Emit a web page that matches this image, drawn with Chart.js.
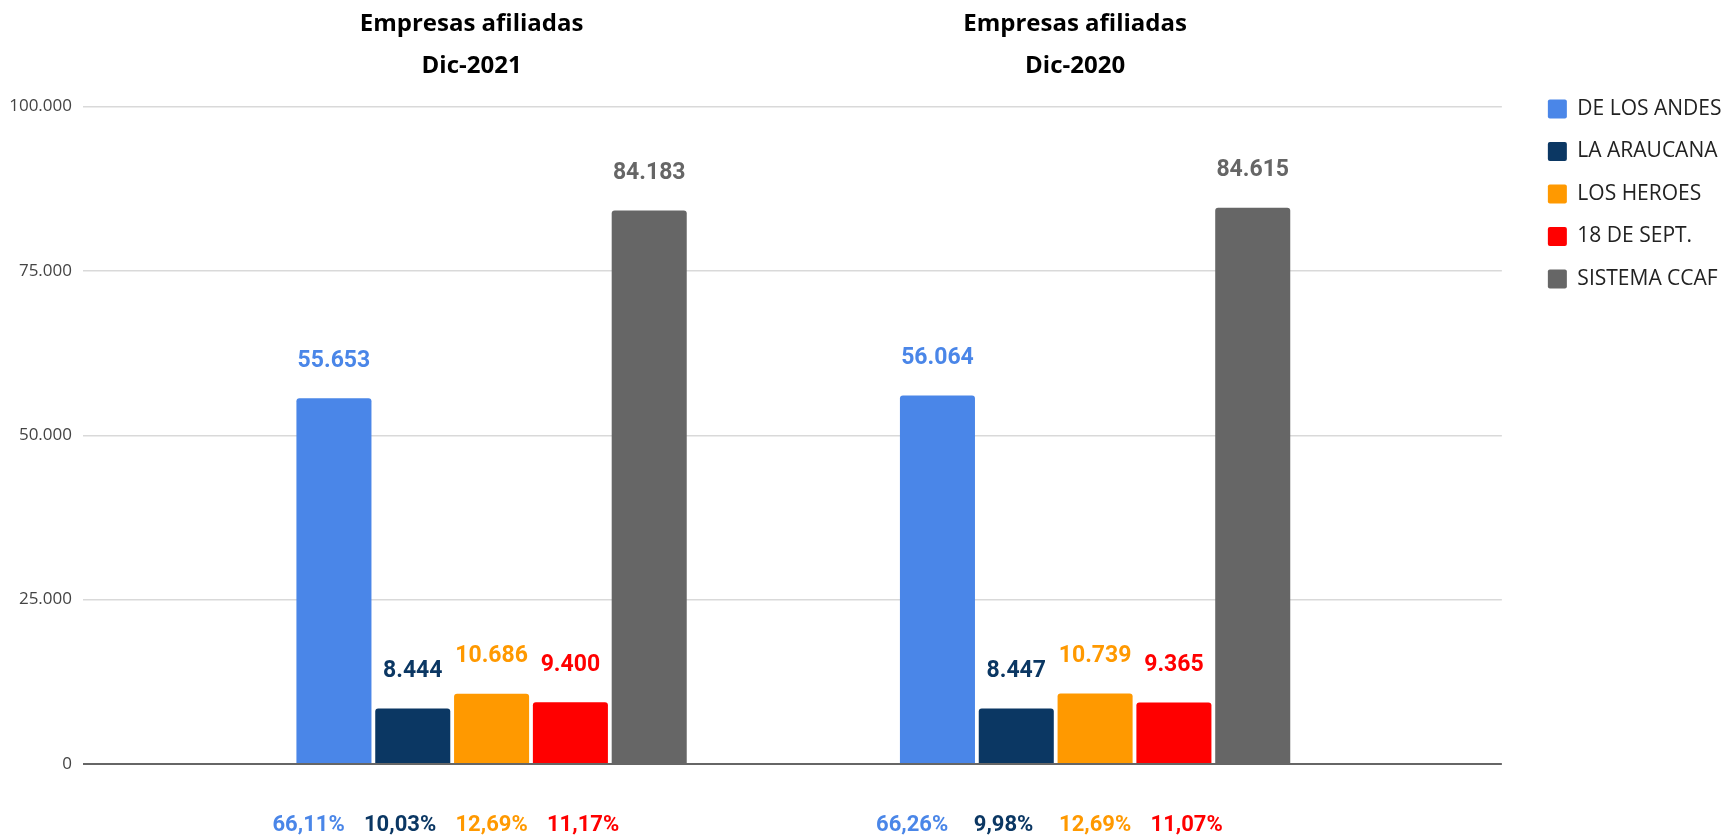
<!DOCTYPE html>
<html>
<head>
<meta charset="utf-8">
<script src="https://cdn.jsdelivr.net/npm/chart.js@4.4.1/dist/chart.umd.min.js"></script>
<style>
    html, body { margin: 0; padding: 0; background: #ffffff; }
    #wrap { width: 1736px; height: 836px; position: relative; }
</style>
</head>
<body>
<div id="wrap"><canvas id="empresas-chart"></canvas></div>
<script>
// periods (one group of bars each)
var periods = ['Dic-2021', 'Dic-2020'];
var titleText = 'Empresas afiliadas';

// series
var seriesNames = ['DE LOS ANDES', 'LA ARAUCANA', 'LOS HEROES', '18 DE SEPT.', 'SISTEMA CCAF'];
var deLosAndes = [55653, 56064];
var laAraucana = [8444, 8447];
var losHeroes = [10686, 10739];
var dieciochoSept = [9400, 9365];
var sistemaCcaf = [84183, 84615];

// share of the system, written under each group
var shares2021 = ['66,11%', '10,03%', '12,69%', '11,17%'];
var shares2020 = ['66,26%', '9,98%', '12,69%', '11,07%'];

var yTicks = [0, 25000, 50000, 75000, 100000];

var seriesColors = ['#4a86e8', '#0b3763', '#ff9900', '#ff0000', '#666666'];

var seriesValues = [deLosAndes, laAraucana, losHeroes, dieciochoSept, sistemaCcaf];
var sharesByPeriod = [shares2021, shares2020];

function fmt(v) {
    return String(v).replace(/\B(?=(\d{3})+(?!\d))/g, '.');
}

var datasets = seriesNames.map(function (name, k) {
    return {
        label: name,
        data: seriesValues[k].map(function (v, i) { return {x: i, y: v}; }),
        backgroundColor: seriesColors[k],
        borderWidth: 0,
        borderRadius: 3,
        categoryPercentage: 0.653,
        barPercentage: 0.952
    };
});

var labelsPlugin = {
    id: 'labelsPlugin',
    afterDatasetsDraw: function (chart) {
        var ctx = chart.ctx;
        var xScale = chart.scales.x;
        ctx.save();
        ctx.textAlign = 'center';
        ctx.textBaseline = 'middle';

        // values above bars
        ctx.font = 'bold 23px Roboto';
        chart.data.datasets.forEach(function (ds, k) {
            var meta = chart.getDatasetMeta(k);
            meta.data.forEach(function (bar, i) {
                ctx.fillStyle = seriesColors[k];
                ctx.fillText(fmt(seriesValues[k][i]), bar.x, bar.y - 37);
            });
        });

        // shares under the axis
        ctx.font = 'bold 22px Roboto';
        sharesByPeriod.forEach(function (shares, i) {
            var cx = xScale.getPixelForValue(i);
            shares.forEach(function (txt, k) {
                ctx.fillStyle = seriesColors[k];
                ctx.fillText(txt, cx + (k - 2) * 91.5, 825);
            });
        });

        // titles over each group
        ctx.font = 'bold 24px "Open Sans"';
        ctx.fillStyle = '#000000';
        periods.forEach(function (p, i) {
            var cx = xScale.getPixelForValue(i) - 20;
            ctx.fillText(titleText, cx, 24);
            ctx.fillText(p, cx, 66);
        });
        ctx.restore();
    }
};

new Chart(document.getElementById('empresas-chart'), {
    type: 'bar',
    data: {
        labels: periods,
        datasets: datasets
    },
    plugins: [labelsPlugin],
    options: {
        responsive: true,
        maintainAspectRatio: false,
        animation: false,
        layout: {
            padding: {top: 77, bottom: 72, left: 0, right: 4.5}
        },
        plugins: {
            tooltip: {enabled: false},
            legend: {
                position: 'right',
                align: 'start',
                maxWidth: 209.5,
                labels: {
                    boxWidth: 19,
                    boxHeight: 19,
                    padding: 21.5,
                    useBorderRadius: true,
                    borderRadius: 2,
                    color: '#222222',
                    font: {family: '"Open Sans"', size: 21}
                }
            }
        },
        scales: {
            x: {
                type: 'linear',
                display: false,
                offset: false,
                min: -0.677,
                max: 1.674,
                ticks: {stepSize: 1, includeBounds: false}
            },
            y: {
                min: 0,
                max: 104500,
                border: {display: false},
                afterBuildTicks: function (scale) {
                    scale.ticks = yTicks.map(function (v) { return {value: v}; });
                },
                afterFit: function (scale) {
                    scale.width = 83;
                },
                grid: {
                    drawTicks: false,
                    color: function (c) { return c.tick && c.tick.value === 0 ? '#666666' : '#d9d9d9'; },
                    lineWidth: function (c) { return c.tick && c.tick.value === 0 ? 2 : 1.5; }
                },
                ticks: {
                    padding: 11,
                    color: '#444444',
                    font: {family: '"Open Sans"', size: 17},
                    callback: function (v) { return fmt(v); }
                }
            },
            gap: {
                type: 'linear',
                axis: 'y',
                position: 'right',
                display: true,
                border: {display: false},
                grid: {display: false},
                ticks: {display: false},
                afterFit: function (scale) {
                    scale.width = 24.5;
                }
            }
        }
    }
});
</script>
</body>
</html>
